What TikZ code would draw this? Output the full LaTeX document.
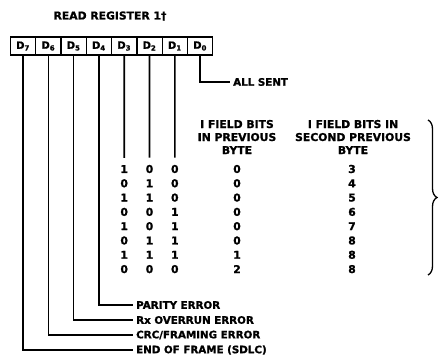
\documentclass[tikz,border=0pt]{standalone}
\usepackage{fontspec}
\setmainfont{DejaVu Sans}
\newfontfamily\heavy[FakeBold=1.2]{DejaVu Sans Bold}
\usetikzlibrary{positioning, decorations.pathreplacing}

\begin{document}
\begin{tikzpicture}[
    x=1pt, y=-1pt,
    node distance = 0pt,
    cell/.style = {rectangle, draw, line width=1.3pt, minimum width=25.3pt, minimum height=18pt, inner sep=0pt, outer sep=0pt, font=\fontsize{10}{12}\selectfont\heavy},
    tag/.style = {anchor=west, inner sep=3pt, font=\fontsize{10.3}{12}\selectfont\heavy},
    head/.style = {align=center, inner sep=0pt, font=\fontsize{10.8}{13}\selectfont\heavy},
    bit/.style = {inner sep=1pt, font=\fontsize{10.8}{12}\selectfont\heavy},
    wire/.style = {line width=1.6pt},
    curly/.style = {decorate, decoration={brace, amplitude=9pt}, line width=1.3pt}
]
    \useasboundingbox (0,0) rectangle (444,355);

    % Register
    \node (title) [font=\fontsize{10.8}{12}\selectfont\heavy] at (110,16) {READ REGISTER 1†};
    \node (d7) [cell] at (23,46) {D\textsubscript{7}};
    \node (d6) [cell, right=of d7] {D\textsubscript{6}};
    \node (d5) [cell, right=of d6] {D\textsubscript{5}};
    \node (d4) [cell, right=of d5] {D\textsubscript{4}};
    \node (d3) [cell, right=of d4] {D\textsubscript{3}};
    \node (d2) [cell, right=of d3] {D\textsubscript{2}};
    \node (d1) [cell, right=of d2] {D\textsubscript{1}};
    \node (d0) [cell, right=of d1] {D\textsubscript{0}};

    % Labels
    \node (allsent) [tag] at (230,82) {ALL SENT};
    \node (parity) [tag] at (133,305) {PARITY ERROR};
    \node (overrun) [tag] at (133,320) {Rx OVERRUN ERROR};
    \node (crc) [tag] at (133,335) {CRC/FRAMING ERROR};
    \node (eof) [tag] at (133,350) {END OF FRAME (SDLC)};

    % Table
    \node (hprev) [head] at (237,137) {I FIELD BITS\\IN PREVIOUS\\BYTE};
    \node (hsecond) [head] at (353,137) {I FIELD BITS IN\\SECOND PREVIOUS\\BYTE};
    \foreach \a/\b/\c/\p/\s [count=\r] in {1/0/0/0/3, 0/1/0/0/4, 1/1/0/0/5, 0/0/1/0/6, 1/0/1/0/7, 0/1/1/0/8, 1/1/1/1/8, 0/0/0/2/8} {
        \node (r\r-a) [bit] at (124.2,{154.7+14.3*\r}) {\a};
        \node (r\r-b) [bit] at (149.5,{154.7+14.3*\r}) {\b};
        \node (r\r-c) [bit] at (174.8,{154.7+14.3*\r}) {\c};
        \node (r\r-p) [bit] at (237,{154.7+14.3*\r}) {\p};
        \node (r\r-s) [bit] at (352,{154.7+14.3*\r}) {\s};
    }
    \draw [curly] (428,120) -- (428,275);

    % Lines
    \draw [wire] (d0.south) |- (allsent.west);
    \draw [wire, shorten >=6pt] (d1.south) -- (r1-c.north);
    \draw [wire, shorten >=6pt] (d2.south) -- (r1-b.north);
    \draw [wire, shorten >=6pt] (d3.south) -- (r1-a.north);
    \draw [wire] (d4.south) |- (parity.west);
    \draw [wire] (d5.south) |- (overrun.west);
    \draw [wire] (d6.south) |- (crc.west);
    \draw [wire] (d7.south) |- (eof.west);

\end{tikzpicture}
\end{document}
